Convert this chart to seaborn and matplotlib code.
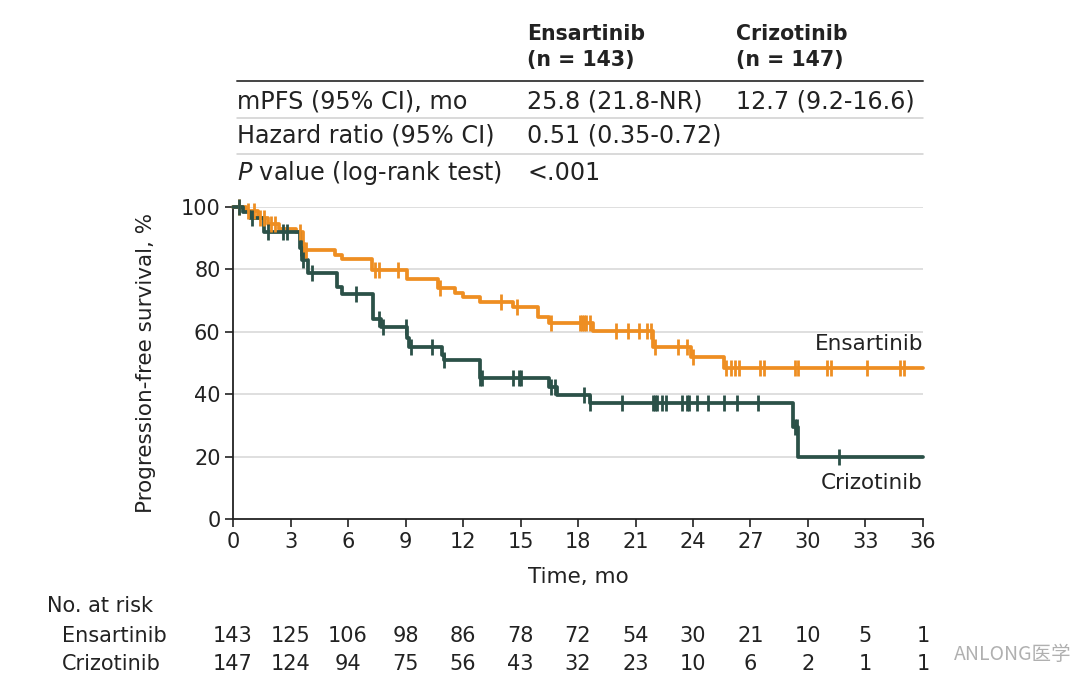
import numpy as np
import pandas as pd
import matplotlib
matplotlib.use("Agg")
import matplotlib.pyplot as plt
import seaborn as sns

# ------------------ Data ------------------
arms = ["Ensartinib", "Crizotinib"]
colors = {"Ensartinib": "#EE8E22", "Crizotinib": "#2B5148"}

# step points: time (mo) where the curve drops, PFS (%) after the drop
ens_time = [0, 0.7, 1.3, 1.8, 2.4, 3.3, 3.65, 5.3, 5.7, 7.25, 9.1, 10.7, 11.6,
            12.0, 12.9, 14.6, 15.9, 16.5, 18.8, 21.9, 23.9, 25.6, 36]
ens_pfs = [100, 98.8, 96.5, 94.5, 93, 92, 86.2, 84.5, 83.2, 79.8, 77, 74, 72.4,
           71, 69.5, 68, 64.7, 62.8, 60.3, 55, 52, 48.4, 48.4]
ens_censor = [0.3, 0.8, 1.1, 1.4, 1.6, 2.0, 2.2, 3.5, 3.7, 3.8, 7.4, 7.6, 8.6,
              10.8, 14.0, 14.8, 16.6, 18.1, 18.2, 18.3, 18.4, 18.6, 20.0, 20.6,
              21.2, 21.6, 21.8, 22.0, 23.2, 23.7, 24.0, 25.7, 26.0, 26.2, 26.4,
              27.5, 27.7, 29.3, 29.5, 31.0, 31.2, 33.1, 34.8, 35.0]

criz_time = [0, 0.5, 0.9, 1.6, 3.5, 3.6, 3.9, 5.4, 5.7, 7.3, 7.7, 9.1, 9.2,
             10.9, 11.0, 12.9, 16.5, 16.9, 18.6, 29.2, 29.5, 36]
criz_pfs = [100, 98.5, 96.5, 92, 87, 83, 79, 74.5, 72, 64, 61.6, 58, 55,
            52.5, 51, 45.3, 42.3, 39.7, 37.2, 29.5, 20, 20]
criz_censor = [0.3, 1.0, 1.8, 2.6, 2.8, 3.55, 3.65, 4.1, 6.4, 7.6, 7.8, 9.0,
               9.3, 10.4, 11.0, 12.9, 13.0, 14.6, 14.9, 15.0, 16.6, 16.8, 18.3,
               18.6, 20.3, 21.9, 22.0, 22.1, 22.4, 22.6, 23.4, 23.7, 23.8, 24.2,
               24.8, 25.6, 26.3, 27.4, 29.3, 29.45, 31.6]

risk_times = [0, 3, 6, 9, 12, 15, 18, 21, 24, 27, 30, 33, 36]
ens_risk = [143, 125, 106, 98, 86, 78, 72, 54, 30, 21, 10, 5, 1]
criz_risk = [147, 124, 94, 75, 56, 43, 32, 23, 10, 6, 2, 1, 1]

table_cols = ["Ensartinib\n(n = 143)", "Crizotinib\n(n = 147)"]
table_rows = ["mPFS (95% CI), mo", "Hazard ratio (95% CI)",
              r"$\it{P}$ value (log-rank test)"]
table_ens = ["25.8 (21.8-NR)", "0.51 (0.35-0.72)", "<.001"]
table_criz = ["12.7 (9.2-16.6)", "", ""]

# ------------------ Helpers ------------------
def step_value(times, values, t):
    idx = np.searchsorted(times, t, side="right") - 1
    return np.asarray(values)[idx]

def fy(py):
    # pixel row -> figure fraction
    return 1 - py / 700

# ------------------ Plot ------------------
sns.set_theme(style="white")
plt.rcParams["font.family"] = ["DejaVu Sans"]
plt.rcParams["mathtext.fontset"] = "dejavusans"

fig = plt.figure(figsize=(10.8, 7), dpi=100)
ax = fig.add_axes([233 / 1080, fy(519), 690 / 1080, 312 / 700])

df = pd.concat([
    pd.DataFrame({"time": ens_time, "pfs": ens_pfs, "arm": "Ensartinib"}),
    pd.DataFrame({"time": criz_time, "pfs": criz_pfs, "arm": "Crizotinib"}),
])

for yv in [20, 40, 60, 80, 100]:
    ax.axhline(yv, color="#d6d6d6", lw=1.1, zorder=0)

sns.lineplot(data=df, x="time", y="pfs", hue="arm", palette=colors,
             estimator=None, sort=False, drawstyle="steps-post", lw=2.7,
             legend=False, ax=ax, clip_on=False, zorder=3)

for arm, times, values, cens in [("Ensartinib", ens_time, ens_pfs, ens_censor),
                                 ("Crizotinib", criz_time, criz_pfs, criz_censor)]:
    cy = [step_value(times, values, t) for t in cens]
    ax.plot(cens, cy, linestyle="none", marker="|", markersize=11, mew=2.0,
            color=colors[arm], clip_on=False, zorder=4)

ax.set_xlim(0, 36)
ax.set_ylim(0, 100)
ax.set_xticks(risk_times)
ax.set_yticks([0, 20, 40, 60, 80, 100])
ax.tick_params(axis="both", direction="out", length=6, width=1.2, color="#222222",
               labelsize=15, labelcolor="#222222", pad=3, left=True, bottom=True)
for side in ["top", "right"]:
    ax.spines[side].set_visible(False)
for side in ["left", "bottom"]:
    ax.spines[side].set_color("#222222")
    ax.spines[side].set_linewidth(1.3)
ax.set_xlabel("Time, mo", fontsize=15.5, color="#222222", labelpad=11)
ax.set_ylabel("Progression-free survival, %", fontsize=15.5, color="#222222",
              labelpad=18)

ax.text(36, 56, "Ensartinib", ha="right", va="center", fontsize=15.5, color="#222222")
ax.text(36, 11.5, "Crizotinib", ha="right", va="center", fontsize=15.5, color="#222222")

# ------------------ Summary table ------------------
x_lab, x_ens, x_criz = 237 / 1080, 527 / 1080, 736 / 1080
fig.text(x_ens, fy(47), table_cols[0], ha="left", va="center", fontsize=14.8,
         fontweight="bold", color="#222222", linespacing=1.35)
fig.text(x_criz, fy(47), table_cols[1], ha="left", va="center", fontsize=14.8,
         fontweight="bold", color="#222222", linespacing=1.35)
fig.add_artist(plt.Line2D([x_lab, 923 / 1080], [fy(81), fy(81)], color="#444444", lw=1.4))
for py in [118, 154]:
    fig.add_artist(plt.Line2D([x_lab, 923 / 1080], [fy(py), fy(py)], color="#d0d0d0", lw=1.1))
for py, lab, e, c in zip([101, 136, 173], table_rows, table_ens, table_criz):
    fig.text(x_lab, fy(py), lab, ha="left", va="center", fontsize=17.2, color="#222222")
    fig.text(x_ens, fy(py), e, ha="left", va="center", fontsize=17.2, color="#222222")
    fig.text(x_criz, fy(py), c, ha="left", va="center", fontsize=17.2, color="#222222")

# ------------------ Number at risk ------------------
fig.text(47 / 1080, fy(606), "No. at risk", ha="left", va="center", fontsize=15,
         color="#222222")
tr = matplotlib.transforms.blended_transform_factory(ax.transData, fig.transFigure)
for py, arm, counts in [(636, "Ensartinib", ens_risk), (664, "Crizotinib", criz_risk)]:
    fig.text(62 / 1080, fy(py), arm, ha="left", va="center", fontsize=15, color="#222222")
    for t, n in zip(risk_times, counts):
        ax.text(t, fy(py), str(n), ha="center", va="center", fontsize=15,
                color="#222222", transform=tr, clip_on=False)

# watermark in the source image
fig.text(1072 / 1080, fy(655), "ANLONG医学", ha="right", va="center", fontsize=14,
         color="#b0b0b0", family=["Noto Sans CJK SC", "DejaVu Sans"])

fig.savefig("out.png", dpi=100, facecolor="white")
